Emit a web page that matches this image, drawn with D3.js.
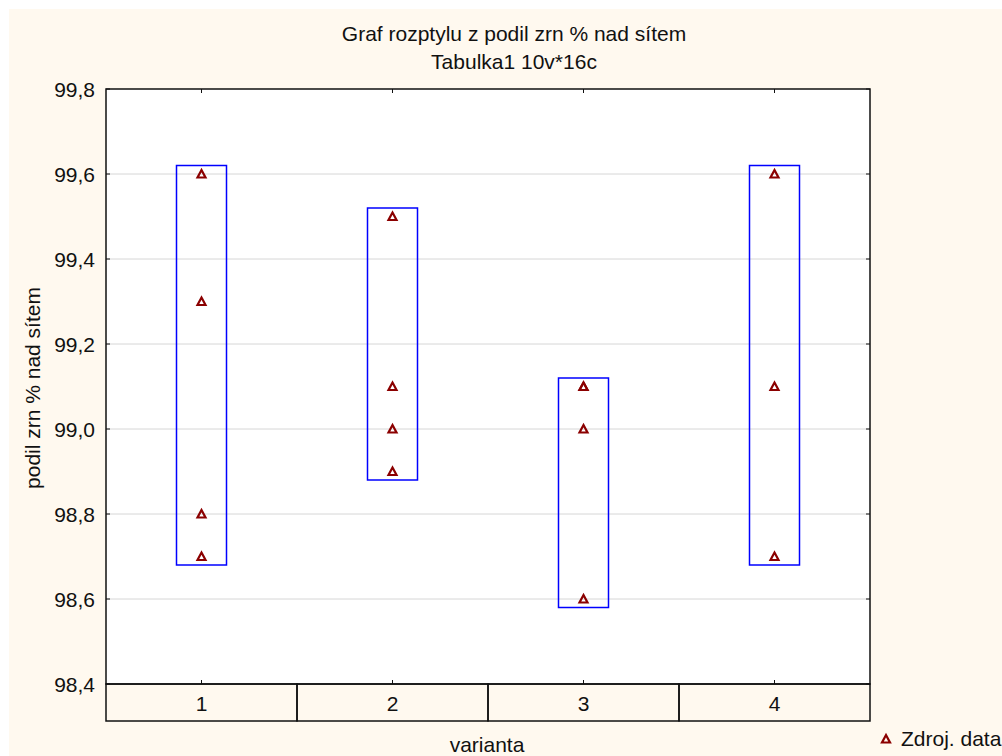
<!DOCTYPE html>
<html><head><meta charset="utf-8">
<script src="https://cdn.jsdelivr.net/npm/d3@7"></script>
<style>html,body{margin:0;padding:0;background:#fff;overflow:hidden;}svg{display:block;}text{font-family:"Liberation Sans",Arial,sans-serif;fill:#111;}</style>
</head><body>
<script>
const categories = ["1","2","3","4"];
const values = [
  [99.6, 99.3, 98.8, 98.7],
  [99.5, 99.1, 99.0, 98.9],
  [99.1, 99.1, 99.0, 98.6],
  [99.6, 99.1, 98.7]
];
const boxHigh = [99.62, 99.52, 99.12, 99.62];
const boxLow  = [98.68, 98.88, 98.58, 98.68];
const yTicks = [98.4, 98.6, 98.8, 99.0, 99.2, 99.4, 99.6, 99.8];
const titleLines = ["Graf rozptylu z podil zrn % nad sítem", "Tabulka1 10v*16c"];

const W = 1002, H = 756;
const L = 106, R = 870, T = 89, B = 684, BAND = 721;
const FS = "21px";
const svg = d3.select("body").append("svg").attr("width", W).attr("height", H);
svg.append("rect").attr("x", 9).attr("y", 9).attr("width", W - 9).attr("height", H - 9).attr("fill", "#fff9ef");

const y = d3.scaleLinear().domain([98.4, 99.8]).range([B, T]);
const x = d3.scaleBand().domain(categories).range([L, R]);

svg.append("rect").attr("x", L).attr("y", T).attr("width", R - L).attr("height", B - T).attr("fill", "#fff");

// grid
svg.append("g").selectAll("line").data(yTicks.filter(v => v > 98.4 && v < 99.8)).join("line")
  .attr("x1", L).attr("x2", R).attr("y1", d => y(d)).attr("y2", d => y(d))
  .attr("stroke", "#d6d6d6").attr("stroke-width", 1);

// left axis labels
const yAxis = d3.axisLeft(y).tickValues(yTicks).tickSize(0).tickPadding(11)
  .tickFormat(d => d3.format(".1f")(d).replace(".", ","));
const gy = svg.append("g").attr("transform", `translate(${L},0)`).call(yAxis);
gy.select(".domain").remove();
gy.selectAll("text").style("font-size", FS).style("font-family", '"Liberation Sans",Arial,sans-serif').attr("fill", "#111").attr("dy", "0.35em");

// inner ticks left and right
svg.append("g").selectAll("line").data(yTicks).join("line")
  .attr("x1", L).attr("x2", L + 4).attr("y1", d => y(d)).attr("y2", d => y(d)).attr("stroke", "#111");
svg.append("g").selectAll("line").data(yTicks).join("line")
  .attr("x1", R - 4).attr("x2", R).attr("y1", d => y(d)).attr("y2", d => y(d)).attr("stroke", "#111");
// top & bottom ticks at category centers
svg.append("g").selectAll("line").data(categories).join("line")
  .attr("x1", d => x(d) + x.bandwidth() / 2).attr("x2", d => x(d) + x.bandwidth() / 2)
  .attr("y1", T).attr("y2", T + 4).attr("stroke", "#111");
svg.append("g").selectAll("line").data(categories).join("line")
  .attr("x1", d => x(d) + x.bandwidth() / 2).attr("x2", d => x(d) + x.bandwidth() / 2)
  .attr("y1", B - 4).attr("y2", B).attr("stroke", "#111");

// boxes
const bw = 50;
svg.append("g").selectAll("rect").data(categories).join("rect")
  .attr("x", d => x(d) + x.bandwidth() / 2 - bw / 2)
  .attr("y", (d, i) => y(boxHigh[i]))
  .attr("width", bw)
  .attr("height", (d, i) => y(boxLow[i]) - y(boxHigh[i]))
  .attr("fill", "none").attr("stroke", "#0000ff").attr("stroke-width", 1.5);

// points
const tri = (cx, cy) => `M${cx},${cy - 4}L${cx + 4},${cy + 3.5}L${cx - 4},${cy + 3.5}Z`;
const pts = [];
values.forEach((arr, i) => arr.forEach(v => pts.push({c: categories[i], v})));
svg.append("g").selectAll("path").data(pts).join("path")
  .attr("d", d => tri(x(d.c) + x.bandwidth() / 2, y(d.v)))
  .attr("fill", "none").attr("stroke", "#8b0000").attr("stroke-width", 2.2);

// plot border
svg.append("rect").attr("x", L).attr("y", T).attr("width", R - L).attr("height", B - T)
  .attr("fill", "none").attr("stroke", "#111").attr("stroke-width", 1.5);

// category band
svg.append("g").selectAll("rect").data(categories).join("rect")
  .attr("x", d => x(d)).attr("y", B).attr("width", x.bandwidth()).attr("height", BAND - B)
  .attr("fill", "none").attr("stroke", "#111").attr("stroke-width", 1.5);
svg.append("g").selectAll("text").data(categories).join("text")
  .attr("x", d => x(d) + x.bandwidth() / 2).attr("y", (B + BAND) / 2 + 1).attr("dy", "0.35em")
  .attr("text-anchor", "middle").style("font-size", FS).text(d => d);

// titles
svg.selectAll("text.title").data(titleLines).join("text").attr("class", "title")
  .attr("x", 514).attr("y", (d, i) => 41 + i * 28).attr("text-anchor", "middle")
  .style("font-size", FS).text(d => d);

// axis labels
svg.append("text").attr("x", 487).attr("y", 752).attr("text-anchor", "middle")
  .style("font-size", FS).text("varianta");
svg.append("text").attr("transform", "translate(40,388) rotate(-90)").attr("text-anchor", "middle")
  .style("font-size", FS).text("podil zrn % nad sítem");

// legend
svg.append("path").attr("d", tri(886, 739)).attr("fill", "none").attr("stroke", "#8b0000").attr("stroke-width", 2.2);
svg.append("text").attr("x", 901).attr("y", 746).style("font-size", FS).text("Zdroj. data");
</script>
</body></html>
